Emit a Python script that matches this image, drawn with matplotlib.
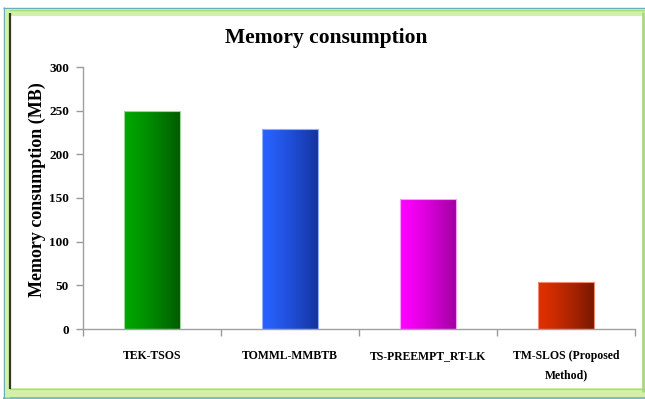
import numpy as np
import matplotlib
matplotlib.use("Agg")
import matplotlib.pyplot as plt
from matplotlib.patches import Rectangle
from matplotlib.lines import Line2D

categories = ["TEK-TSOS", "TOMML-MMBTB", "TS-PREEMPT_RT-LK", "TM-SLOS (Proposed\nMethod)"]
memory_mb = [250, 229, 149, 54]
bar_left_colors = ["#00a600", "#2862ff", "#ff00ff", "#e03000"]
bar_right_colors = ["#005c00", "#1433a0", "#a000a0", "#781800"]
edge_colors = ["#9ad89a", "#8fb0ff", "#ff9cff", "#f08a70"]
y_ticks = [0, 50, 100, 150, 200, 250, 300]

serif = ["Liberation Serif", "DejaVu Serif"]

W, H = 645, 399
fig = plt.figure(figsize=(W / 100, H / 100), dpi=100)
fig.patch.set_facecolor("white")

# decorative frame around the chart
def fx(px):
    return px / W

def fy(py):
    return 1 - py / H

def hline(y, x0, x1, color, lw):
    fig.add_artist(Line2D([fx(x0), fx(x1)], [fy(y), fy(y)], color=color, lw=lw,
                          transform=fig.transFigure, solid_capstyle="butt"))

def vline(x, y0, y1, color, lw):
    fig.add_artist(Line2D([fx(x), fx(x)], [fy(y0), fy(y1)], color=color, lw=lw,
                          transform=fig.transFigure, solid_capstyle="butt"))

teal = "#6aaeb8"
green_light = "#d2f0a8"
green_mid = "#a8d880"
# outer teal line
hline(7.5, 3, 645, teal, 1.0)
hline(398, 3, 645, teal, 1.2)
vline(3.5, 7, 399, teal, 1.0)
# green bands
hline(11.5, 5, 645, green_light, 4.0)
hline(10.0, 5, 645, green_mid, 1.0)
hline(14.5, 9, 645, green_light, 1.5)
hline(392, 5, 645, green_light, 6.5)
hline(389, 9, 645, green_mid, 0.8)
vline(6.5, 9, 397, green_light, 3.5)
vline(642.5, 12, 392, green_mid, 2.0)
# dark inner edge on the left
vline(9.7, 13, 389, "#2f3a22", 1.6)

ax = fig.add_axes([fx(83), fy(329), fx(635) - fx(83), fy(67) - fy(329)])
ax.set_facecolor("none")

x = np.arange(len(categories))
bars = ax.bar(x, memory_mb, width=0.4, color="none", zorder=2)

# horizontal gradient fill for each bar
for bar, c0, c1, ec in zip(bars, bar_left_colors, bar_right_colors, edge_colors):
    x0, w, h = bar.get_x(), bar.get_width(), bar.get_height()
    rgb0 = np.array(matplotlib.colors.to_rgb(c0))
    rgb1 = np.array(matplotlib.colors.to_rgb(c1))
    t = np.linspace(0, 1, 256)
    # mostly flat on the left, darkening toward the right edge
    t = t ** 1.3
    grad = (rgb0[None, :] * (1 - t[:, None]) + rgb1[None, :] * t[:, None])[None, :, :]
    im = ax.imshow(grad, extent=[x0, x0 + w, 0, h], aspect="auto", origin="lower",
                   zorder=2, interpolation="bilinear")
    im.set_clip_path(bar)
    ax.add_patch(Rectangle((x0, 0), w, h, fill=False, edgecolor=ec, lw=0.8, zorder=3))

ax.set_xlim(-0.5, len(categories) - 0.5)
ax.set_ylim(0, 300)
ax.set_yticks(y_ticks)
ax.set_yticklabels([str(v) for v in y_ticks], fontfamily=serif, fontweight="bold", fontsize=9.5)

ax.set_xticks(np.arange(-0.5, len(categories), 1.0))
ax.set_xticklabels([])
ax.set_xticks(x, minor=True)
ax.set_xticklabels(categories, minor=True, fontfamily=serif, fontweight="bold",
                   fontsize=8.5, linespacing=1.8, va="top")
ax.tick_params(axis="x", which="minor", length=0, pad=15)
ax.tick_params(axis="x", which="major", length=5, color="#9a9a9a", width=1)
ax.tick_params(axis="y", length=5, color="#9a9a9a", width=1, pad=5)

for s in ["top", "right"]:
    ax.spines[s].set_visible(False)
for s in ["left", "bottom"]:
    ax.spines[s].set_color("#a0a0a0")
    ax.spines[s].set_linewidth(1.0)

# y-axis title placed in figure coordinates
fig.text(fx(37), fy(190), "Memory consumption (MB)", fontfamily=serif, fontweight="bold",
         fontsize=13, rotation=90, ha="center", va="center")

fig.text(fx(326), fy(38), "Memory consumption", fontfamily=serif, fontweight="bold",
         fontsize=15.5, ha="center", va="center")

fig.savefig("out.png", dpi=100, facecolor="white")
